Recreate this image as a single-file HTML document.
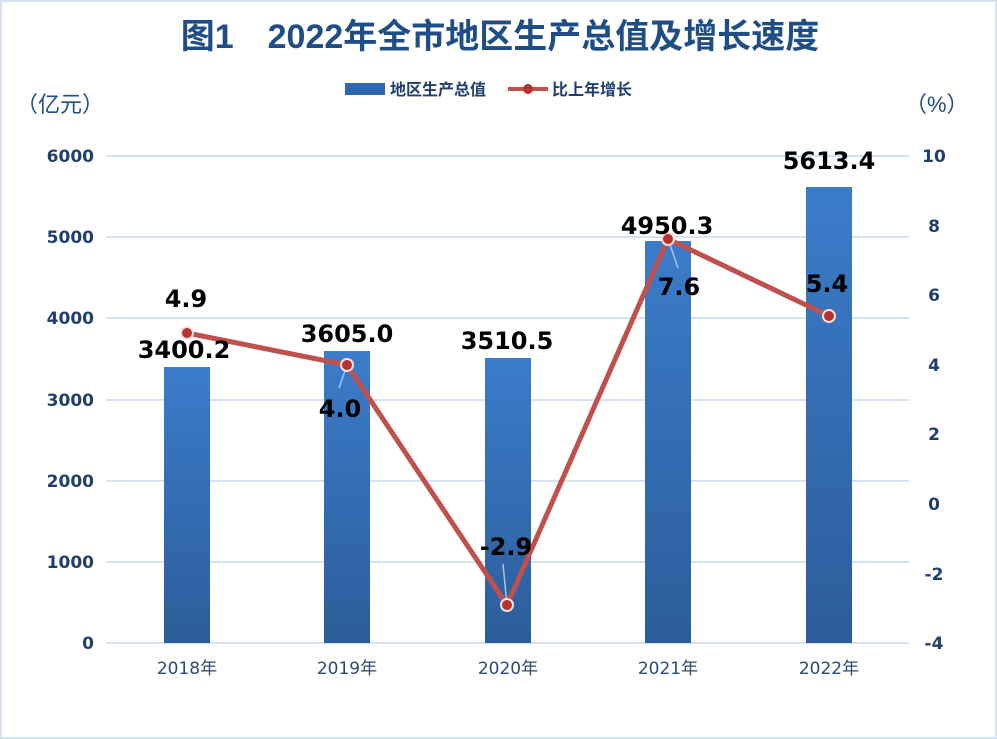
<!DOCTYPE html>
<html><head><meta charset="utf-8"><style>
html,body{margin:0;padding:0;background:#fff}
svg{display:block}
</style></head><body>
<svg width="997" height="739" viewBox="0 0 997 739" xmlns="http://www.w3.org/2000/svg">
<defs>
<linearGradient id="bg" x1="0" y1="0" x2="0" y2="1">
<stop offset="0" stop-color="#3b7cca"/><stop offset="1" stop-color="#2c5d9a"/>
</linearGradient>
</defs>
<rect x="1" y="1" width="995" height="737" fill="#fff" stroke="#d5e2f2" stroke-width="2"/>
<text x="500" y="48" text-anchor="middle" font-family="'Liberation Sans','Noto Sans CJK SC',sans-serif" font-weight="bold" font-size="34" fill="#1f4e86">图1　2022年全市地区生产总值及增长速度</text>
<rect x="345" y="83" width="40" height="12" fill="#2f67ae"/>
<text x="390" y="95" font-family="'Liberation Sans','Noto Sans CJK SC',sans-serif" font-size="16" font-weight="bold" fill="#1f3f6e">地区生产总值</text>
<line x1="508" y1="89" x2="548" y2="89" stroke="#c0504d" stroke-width="4"/>
<circle cx="528" cy="89" r="5" fill="#b83030"/>
<text x="552" y="95" font-family="'Liberation Sans','Noto Sans CJK SC',sans-serif" font-size="16" font-weight="bold" fill="#1f3f6e">比上年增长</text>
<text x="16" y="112" font-family="'Liberation Sans','Noto Sans CJK SC',sans-serif" font-size="22" fill="#1f4e86">（亿元）</text>
<text x="905" y="112" font-family="'Liberation Sans','Noto Sans CJK SC',sans-serif" font-size="22" fill="#1f4e86">（%）</text>
<g stroke="#d5e2f2" stroke-width="2">
<line x1="106" y1="156" x2="909" y2="156"/><line x1="106" y1="237" x2="909" y2="237"/>
<line x1="106" y1="318" x2="909" y2="318"/><line x1="106" y1="400" x2="909" y2="400"/>
<line x1="106" y1="481" x2="909" y2="481"/><line x1="106" y1="562" x2="909" y2="562"/>
<line x1="106" y1="643" x2="909" y2="643"/>
</g>
<g font-family="'DejaVu Sans',sans-serif" font-weight="bold" font-size="17" fill="#1f3f6e" text-anchor="end">
<text x="94" y="162">6000</text><text x="94" y="243">5000</text><text x="94" y="324">4000</text>
<text x="94" y="406">3000</text><text x="94" y="487">2000</text><text x="94" y="568">1000</text><text x="94" y="649">0</text>
</g>
<g font-family="'DejaVu Sans',sans-serif" font-weight="bold" font-size="17" fill="#1f3f6e" text-anchor="middle">
<text x="934" y="162">10</text><text x="934" y="232">8</text><text x="934" y="301">6</text>
<text x="934" y="371">4</text><text x="934" y="440">2</text><text x="934" y="510">0</text>
<text x="934" y="580">-2</text><text x="934" y="649">-4</text>
</g>
<g fill="url(#bg)">
<rect x="164" y="367" width="46" height="276"/>
<rect x="324" y="351" width="46" height="292"/>
<rect x="485" y="358" width="46" height="285"/>
<rect x="645" y="241" width="46" height="402"/>
<rect x="806" y="187" width="46" height="456"/>
</g>
<g font-family="'DejaVu Sans','Noto Sans CJK SC',sans-serif" font-size="17" fill="#2c4a74" text-anchor="middle">
<text x="187" y="674">2018年</text><text x="347" y="674">2019年</text><text x="508" y="674">2020年</text>
<text x="668" y="674">2021年</text><text x="829" y="674">2022年</text>
</g>
<g stroke="#a9c3e6" stroke-width="1.5">
<line x1="347" y1="365" x2="339" y2="388"/><line x1="507" y1="605" x2="503" y2="564"/><line x1="668" y1="239" x2="678" y2="268"/>
</g>
<polyline points="187,333 347,365 507,605 668,239 829,316" fill="none" stroke="#c0504d" stroke-width="5" stroke-linejoin="round"/>
<g fill="#b83030" stroke="#f3e3dc" stroke-width="2">
<circle cx="187" cy="333" r="6"/><circle cx="347" cy="365" r="6"/><circle cx="507" cy="605" r="6"/>
<circle cx="668" cy="239" r="6"/><circle cx="829" cy="316" r="6"/>
</g>
<g font-family="'DejaVu Sans',sans-serif" font-weight="bold" font-size="24" fill="#000" text-anchor="middle">
<text x="184" y="358">3400.2</text><text x="347" y="342">3605.0</text><text x="507" y="349">3510.5</text>
<text x="667" y="234">4950.3</text><text x="829" y="169">5613.4</text>
<text x="186" y="307">4.9</text><text x="340" y="417">4.0</text><text x="506" y="555">-2.9</text>
<text x="679" y="295">7.6</text><text x="827" y="292">5.4</text>
</g>
</svg>
</body></html>
